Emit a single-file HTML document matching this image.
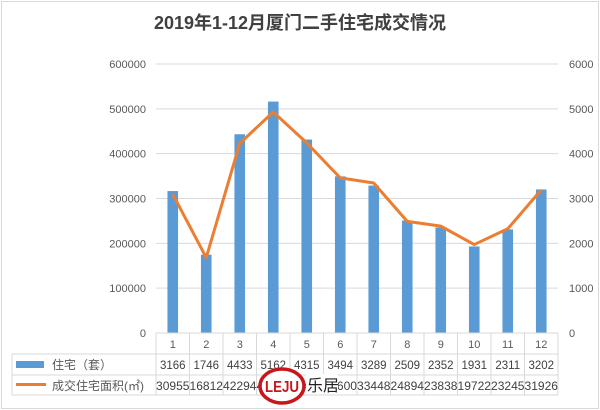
<!DOCTYPE html>
<html><head><meta charset="utf-8"><style>
body{margin:0;background:#fff}
svg{display:block;font-family:"Liberation Sans","Noto Sans CJK SC",sans-serif}
</style></head><body>
<svg id="c" width="600" height="410">
<rect x="1.5" y="1.5" width="597" height="407" fill="#fff" stroke="#d9d9d9"/>
<text x="300" y="29" text-anchor="middle" font-size="18" font-weight="bold" fill="#404040" font-family="'Liberation Sans','Noto Sans CJK SC',sans-serif">2019年1-12月厦门二手住宅成交情况</text>
<g id="grid"></g><g id="bars"></g><g id="line"></g><g id="axes"></g><g id="table"></g>
</svg>
<script>
const months=["1","2","3","4","5","6","7","8","9","10","11","12"];
const units=[3166,1746,4433,5162,4315,3494,3289,2509,2352,1931,2311,3202];
const area=[309552,168122,422940,493000,424000,346000,334480,248940,238380,197220,232450,319260];
const areaLabels=["309552","168122","422940","493000","424000","346000","334480","248940","238380","197220","232450","319260"];
const leftTicks=[0,100000,200000,300000,400000,500000,600000];
const rightTicks=[0,1000,2000,3000,4000,5000,6000];
const NS="http://www.w3.org/2000/svg";
const X0=156,X1=558,Y0=333,Y1=64;
const cw=(X1-X0)/months.length;
const xc=i=>X0+cw*(i+0.5);
const yL=v=>Y0-(v/600000)*(Y0-Y1);
const yR=v=>Y0-(v/6000)*(Y0-Y1);
function mk(p,tag,a,txt){const e=document.createElementNS(NS,tag);for(const k in a)e.setAttribute(k,a[k]);if(txt!=null)e.textContent=txt;p.appendChild(e);return e;}
const G=id=>document.getElementById(id);
leftTicks.forEach((t,i)=>{
  if(t>0){const l=mk(G('grid'),'line',{x1:X0,x2:X1,y1:yL(t),y2:yL(t),stroke:'#d9d9d9'});
  
  }
  const tx=mk(G('axes'),'text',{x:146,y:yL(t)+4,'text-anchor':'end','font-size':11,fill:'#595959'},String(t));
  
  
});
rightTicks.forEach(t=>{
  const tx=mk(G('axes'),'text',{x:569,y:yR(t)+4,'font-size':11,fill:'#595959'},String(t));
  
  
});
units.forEach((v,i)=>{
  const b=mk(G('bars'),'rect',{x:xc(i)-5.3,y:yR(v),width:10.6,height:Y0-yR(v),fill:'#5b9bd5'});
  
  
});
const pts=area.map((v,i)=>xc(i)+','+yL(v)).join(' ');
const pl=mk(G('line'),'polyline',{points:pts,fill:'none',stroke:'#ed7d31','stroke-width':3,'stroke-linejoin':'round'});


const T=G('table');const st='#d9d9d9';
const hl=(x1,x2,y)=>mk(T,'line',{x1,x2,y1:y,y2:y,stroke:st});
const vl=(x,y1,y2)=>mk(T,'line',{x1:x,x2:x,y1,y2,stroke:st});
hl(X0,X1,Y0);hl(12,X1,354);hl(12,X1,375);hl(12,X1,395);
vl(12,354,395);
for(let i=0;i<=months.length;i++)vl(X0+cw*i,Y0,395);
months.forEach((m,i)=>{
  const t=mk(T,'text',{x:xc(i),y:348,'text-anchor':'middle','font-size':11,fill:'#595959'},m);
  
  
  const a=mk(T,'text',{x:xc(i),y:369,'text-anchor':'middle','font-size':11.5,fill:'#404040'},String(units[i]));
  
  
  const b=mk(T,'text',{x:xc(i),y:390,'text-anchor':'middle','font-size':11.5,fill:'#404040',textLength:cw,lengthAdjust:'spacingAndGlyphs'},areaLabels[i].slice(0,5));
  
  
});
</script>
<svg style="position:absolute;left:0;top:0" width="600" height="410">
<rect x="16" y="361" width="28" height="7" fill="#5b9bd5"/>
<text x="52" y="369" font-size="12" fill="#595959" font-family="'Liberation Sans','Noto Sans CJK SC',sans-serif">住宅（套）</text>
<rect x="16" y="383" width="30" height="3" fill="#ed7d31"/>
<text x="52" y="390" font-size="12" fill="#595959" font-family="'Liberation Sans','Noto Sans CJK SC',sans-serif">成交住宅面积(㎡)</text>
<g>
<ellipse cx="282" cy="386" rx="22" ry="17" fill="#fff" stroke="#c8161d" stroke-width="3.5"/>
<text x="282" y="392" text-anchor="middle" font-size="16" font-weight="bold" fill="#c8161d" font-family="'Liberation Sans',sans-serif" textLength="34" lengthAdjust="spacingAndGlyphs">LEJU</text>
<rect x="306" y="374" width="32" height="20" fill="#fff"/>
<text x="307" y="391" font-size="16" fill="#222" font-family="'Noto Sans CJK SC',sans-serif">乐居</text>
</g>
</svg>
</body></html>
